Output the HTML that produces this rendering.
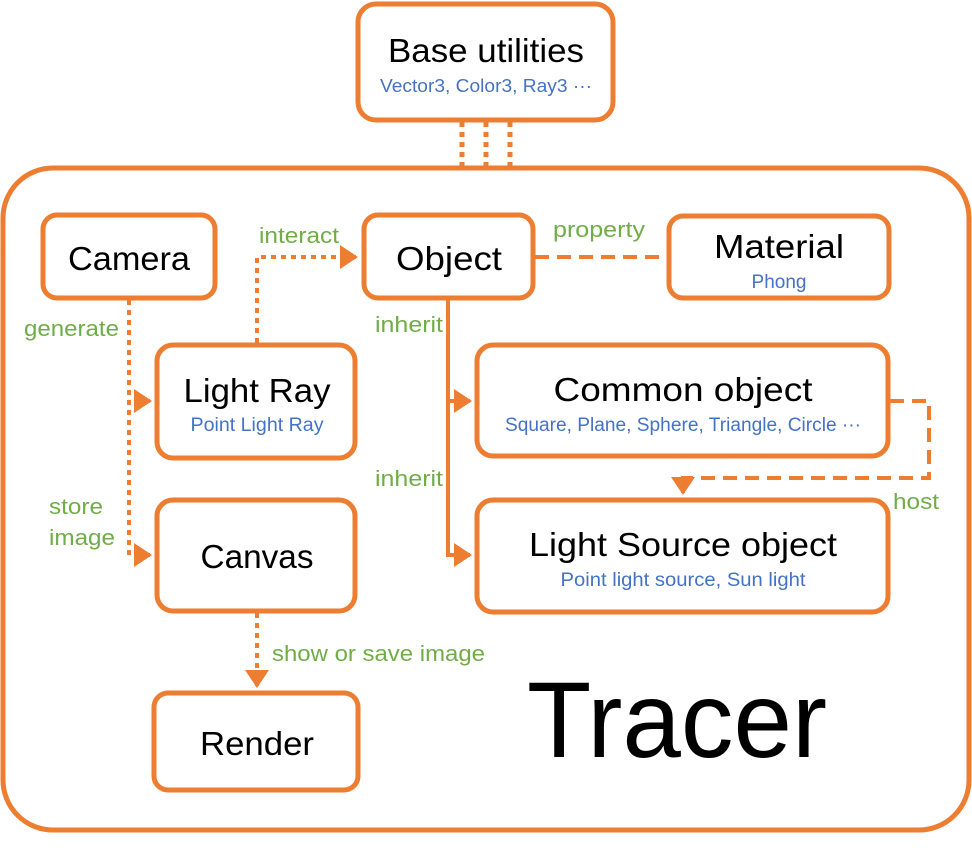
<!DOCTYPE html>
<html><head><style>body{margin:0;background:#fff}svg{display:block}</style></head><body>
<svg width="972" height="850" xmlns="http://www.w3.org/2000/svg" font-family="Liberation Sans, DejaVu Sans, sans-serif">
<defs><marker id="a" markerWidth="6" markerHeight="6" refX="4" refY="3" orient="auto" markerUnits="strokeWidth"><path d="M0,0 L4.5,3 L0,6 z" fill="#ED7D31"/></marker></defs>
<g fill="none" stroke="#ED7D31" stroke-width="5">
<rect x="358" y="4" width="255" height="116" rx="18" fill="#fff"/>
<rect x="3" y="168" width="966" height="662" rx="50"/>
<g stroke-dasharray="5 5" stroke-width="5">
<line x1="462" y1="122" x2="462" y2="166"/><line x1="486" y1="122" x2="486" y2="166"/><line x1="510" y1="122" x2="510" y2="166"/>
</g>
<rect x="43" y="215" width="172" height="83" rx="14"/>
<rect x="364" y="215" width="169" height="83" rx="14"/>
<rect x="669" y="216" width="220" height="82" rx="14"/>
<rect x="157" y="345" width="198" height="113" rx="16"/>
<rect x="477" y="345" width="411" height="111" rx="16"/>
<rect x="477" y="500" width="411" height="112" rx="16"/>
<rect x="157" y="500" width="198" height="111" rx="16"/>
<rect x="154" y="693" width="204" height="97" rx="14"/>
<g stroke-dasharray="5 5" stroke-width="4">
<path d="M129 300 V555 H140"/>
<path d="M135 401 H140"/>
<path d="M257 343 V257 H345"/>
<path d="M257 613 V678"/>
</g>
<path d="M140 401 H150" marker-end="url(#a)" stroke-width="4"/>
<path d="M140 555 H150" marker-end="url(#a)" stroke-width="4"/>
<path d="M345 257 H356" marker-end="url(#a)" stroke-width="4"/>
<path d="M257 678 V686" marker-end="url(#a)" stroke-width="4"/>
<path d="M535 257 H667" stroke-dasharray="14 8" stroke-width="4"/>
<path d="M448 298 V555 H470" stroke-width="4" marker-end="url(#a)"/>
<path d="M448 401 H470" stroke-width="4" marker-end="url(#a)"/>
<path d="M890 401 H929 V478 H683 V493" stroke-dasharray="14 8" stroke-width="4" marker-end="url(#a)"/>
</g>
<g text-anchor="middle" fill="#000">
<text x="486" y="62" font-size="33" textLength="196" lengthAdjust="spacingAndGlyphs">Base utilities</text>
<text x="486" y="92" font-size="18" fill="#4472C4" textLength="212" lengthAdjust="spacingAndGlyphs">Vector3, Color3, Ray3 ···</text>
<text x="129" y="270" font-size="33" textLength="122" lengthAdjust="spacingAndGlyphs">Camera</text>
<text x="449" y="270" font-size="33" textLength="106" lengthAdjust="spacingAndGlyphs">Object</text>
<text x="779" y="258" font-size="33" textLength="130" lengthAdjust="spacingAndGlyphs">Material</text>
<text x="779" y="288" font-size="19" fill="#4472C4">Phong</text>
<text x="257" y="402" font-size="33" textLength="147" lengthAdjust="spacingAndGlyphs">Light Ray</text>
<text x="257" y="431" font-size="19" fill="#4472C4" textLength="133" lengthAdjust="spacingAndGlyphs">Point Light Ray</text>
<text x="683" y="401" font-size="33" textLength="259" lengthAdjust="spacingAndGlyphs">Common object</text>
<text x="683" y="431" font-size="19" fill="#4472C4" textLength="356" lengthAdjust="spacingAndGlyphs">Square, Plane, Sphere, Triangle, Circle ···</text>
<text x="683" y="556" font-size="33" textLength="308" lengthAdjust="spacingAndGlyphs">Light Source object</text>
<text x="683" y="586" font-size="19" fill="#4472C4" textLength="245" lengthAdjust="spacingAndGlyphs">Point light source, Sun light</text>
<text x="257" y="568" font-size="33" textLength="113" lengthAdjust="spacingAndGlyphs">Canvas</text>
<text x="257" y="755" font-size="33" textLength="114" lengthAdjust="spacingAndGlyphs">Render</text>
<text x="677" y="757" font-size="108" textLength="300" lengthAdjust="spacingAndGlyphs">Tracer</text>
</g>
<g fill="#70AD47" font-size="22">
<text x="24" y="336" textLength="95" lengthAdjust="spacingAndGlyphs">generate</text>
<text x="49" y="514" textLength="54" lengthAdjust="spacingAndGlyphs">store</text>
<text x="49" y="545" textLength="66" lengthAdjust="spacingAndGlyphs">image</text>
<text x="259" y="243" textLength="80" lengthAdjust="spacingAndGlyphs">interact</text>
<text x="553" y="237" textLength="92" lengthAdjust="spacingAndGlyphs">property</text>
<text x="375" y="332" textLength="68" lengthAdjust="spacingAndGlyphs">inherit</text>
<text x="375" y="486" textLength="68" lengthAdjust="spacingAndGlyphs">inherit</text>
<text x="893" y="509" textLength="46" lengthAdjust="spacingAndGlyphs">host</text>
<text x="272" y="661" textLength="213" lengthAdjust="spacingAndGlyphs">show or save image</text>
</g>
</svg>
</body></html>
